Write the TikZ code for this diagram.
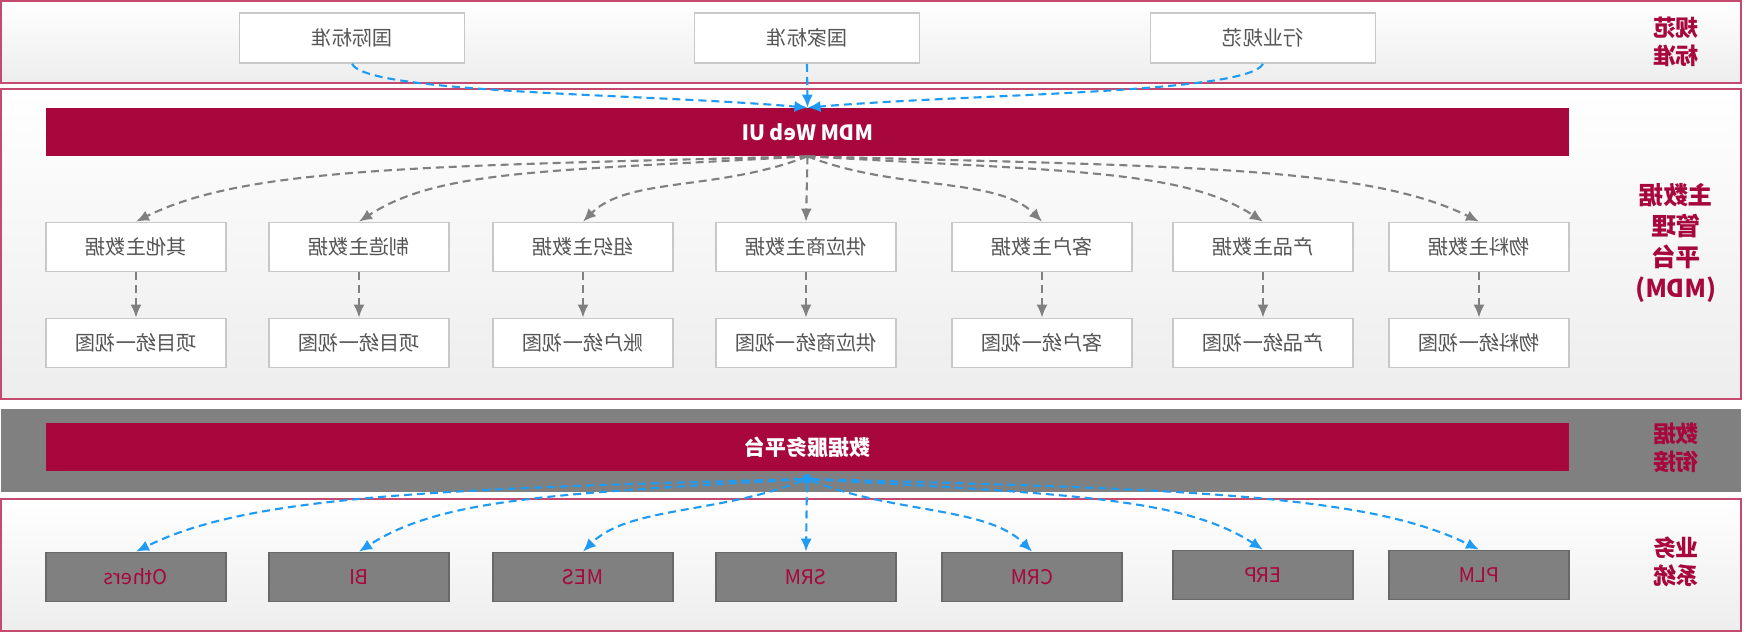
\documentclass[tikz,border=0pt]{standalone}
\usepackage{fontspec}
\usepackage{graphicx}
\setmainfont{Noto Sans CJK SC}
\usetikzlibrary{arrows.meta}
\definecolor{Crimson}{HTML}{A8073D}
\definecolor{Rim}{HTML}{C44A70}
\definecolor{Haze}{HTML}{EDEDED}
\definecolor{Frame}{HTML}{C8C8C8}
\definecolor{Ink}{HTML}{555555}
\definecolor{Stone}{HTML}{808080}
\definecolor{Slate}{HTML}{686868}
\definecolor{Sky}{HTML}{1E9BF5}
\newcommand{\mir}[1]{\reflectbox{#1}}
\newcommand{\mirstack}[1]{\reflectbox{\begin{tabular}{@{}c@{}}#1\end{tabular}}}
\tikzset{
  band/.style={draw=Rim,line width=1.4pt,top color=white,bottom color=Haze},
  bar/.style={fill=Crimson,minimum width=30.46cm,minimum height=0.96cm,inner sep=0pt,
    text=white,font=\bfseries\fontsize{12}{14}\selectfont},
  stdbox/.style={draw=Frame,line width=1pt,fill=white,minimum width=4.5cm,minimum height=1cm,
    text=Ink,font=\fontsize{11.5}{13}\selectfont},
  mdbox/.style={stdbox,minimum width=3.6cm,minimum height=0.98cm},
  sysbox/.style={draw=Slate,line width=1pt,fill=Stone,minimum width=3.6cm,minimum height=0.98cm,
    text=Crimson,font=\fontsize{11.5}{13}\selectfont},
  sidelabel/.style={text=Crimson,align=center,font=\bfseries\fontsize{13}{16}\selectfont},
  blueflow/.style={-{Latex[length=2.6mm,width=2.2mm]},line width=1.2pt,draw=Sky,
    dash pattern=on 1.6mm off 1mm},
  grayflow/.style={-{Latex[length=2.6mm,width=2.2mm]},line width=1.2pt,draw=Stone,
    dash pattern=on 1.6mm off 1mm},
}

\begin{document}
\begin{tikzpicture}[x=0.02cm,y=0.02cm]
  \useasboundingbox (0,0) rectangle (1746,-633);

  % bands
  \draw[band] (1,-1) rectangle (1741,-83);
  \draw[band] (1,-89) rectangle (1741,-399);
  \fill[Stone] (1,-409) rectangle (1741,-492);
  \draw[band] (1,-499) rectangle (1741,-631);

  % standards
  \node[stdbox] (intl) at (352,-38) {\mir{国际标准}};
  \node[stdbox] (natl) at (807,-38) {\mir{国家标准}};
  \node[stdbox] (indus) at (1263,-38) {\mir{行业规范}};
  \node[sidelabel] (lstd) at (1676,-45) {\mirstack{规范\\标准}};

  % MDM platform
  \node[bar] (webui) at (807.5,-132) {\mir{MDM Web UI}};
  \draw[blueflow] (intl.south) .. controls +(15,-30) and +(-160,14) .. (webui.north);
  \draw[blueflow] (natl.south) -- (webui.north);
  \draw[blueflow] (indus.south) .. controls +(-15,-30) and +(160,14) .. (webui.north);

  \node[mdbox] (mOther) at (136,-247) {\mir{其他主数据}};
  \node[mdbox] (mMake) at (359,-247) {\mir{制造主数据}};
  \node[mdbox] (mOrg) at (583,-247) {\mir{组织主数据}};
  \node[mdbox] (mSupp) at (806,-247) {\mir{供应商主数据}};
  \node[mdbox] (mCust) at (1042,-247) {\mir{客户主数据}};
  \node[mdbox] (mProd) at (1263,-247) {\mir{产品主数据}};
  \node[mdbox] (mMat) at (1479,-247) {\mir{物料主数据}};

  \node[mdbox] (vOther) at (136,-343) {\mir{项目统一视图}};
  \node[mdbox] (vMake) at (359,-343) {\mir{项目统一视图}};
  \node[mdbox] (vOrg) at (583,-343) {\mir{账户统一视图}};
  \node[mdbox] (vSupp) at (806,-343) {\mir{供应商统一视图}};
  \node[mdbox] (vCust) at (1042,-343) {\mir{客户统一视图}};
  \node[mdbox] (vProd) at (1263,-343) {\mir{产品统一视图}};
  \node[mdbox] (vMat) at (1479,-343) {\mir{物料统一视图}};

  \draw[grayflow] (webui.south) .. controls +(-380,-10) and +(110,55) .. (mOther.north);
  \draw[grayflow] (webui.south) .. controls +(-260,-15) and +(80,52) .. (mMake.north);
  \draw[grayflow] (webui.south) .. controls +(-90,-35) and +(45,45) .. (mOrg.north);
  \draw[grayflow] (webui.south) -- (mSupp.north);
  \draw[grayflow] (webui.south) .. controls +(90,-35) and +(-45,45) .. (mCust.north);
  \draw[grayflow] (webui.south) .. controls +(260,-15) and +(-80,52) .. (mProd.north);
  \draw[grayflow] (webui.south) .. controls +(380,-10) and +(-110,55) .. (mMat.north);

  \foreach \n in {Other,Make,Org,Supp,Cust,Prod,Mat}
    \draw[grayflow] (m\n.south) -- (v\n.north);

  \node[sidelabel,font=\bfseries\fontsize{14}{17.5}\selectfont] (lmdm) at (1676,-245) {\mirstack{主数据\\管理\\平台\\(MDM)}};

  % data service
  \node[bar] (dsp) at (807.5,-447) {\mir{数据服务平台}};
  \node[sidelabel] (llink) at (1676,-451) {\mirstack{数据\\衔接}};
  \node[circle,fill=Sky,inner sep=0pt,minimum size=2mm] (hub) at (807,-479) {};

  % business systems
  \node[sysbox] (sOthers) at (136,-577) {\mir{Others}};
  \node[sysbox] (sBI) at (359,-577) {\mir{BI}};
  \node[sysbox] (sMES) at (583,-577) {\mir{MES}};
  \node[sysbox] (sSRM) at (806,-577) {\mir{SRM}};
  \node[sysbox] (sCRM) at (1032,-577) {\mir{CRM}};
  \node[sysbox] (sERP) at (1263,-575) {\mir{ERP}};
  \node[sysbox] (sPLM) at (1479,-575) {\mir{PLM}};
  \node[sidelabel] (lsys) at (1676,-565) {\mirstack{业务\\系统}};

  \draw[blueflow] (hub) .. controls +(-380,-10) and +(110,55) .. (sOthers.north);
  \draw[blueflow] (hub) .. controls +(-260,-15) and +(80,52) .. (sBI.north);
  \draw[blueflow] (hub) .. controls +(-90,-35) and +(45,45) .. (sMES.north);
  \draw[blueflow] (hub) -- (sSRM.north);
  \draw[blueflow] (hub) .. controls +(90,-35) and +(-45,45) .. (sCRM.north);
  \draw[blueflow] (hub) .. controls +(260,-15) and +(-80,52) .. (sERP.north);
  \draw[blueflow] (hub) .. controls +(380,-10) and +(-110,55) .. (sPLM.north);
\end{tikzpicture}
\end{document}
